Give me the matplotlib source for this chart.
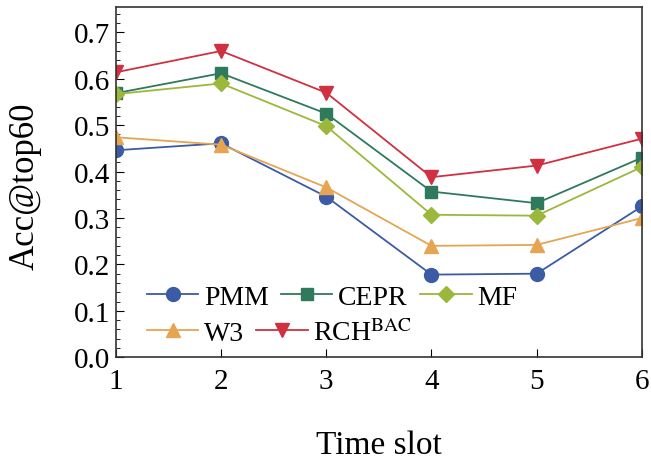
import matplotlib.pyplot as plt
from matplotlib.ticker import MultipleLocator

plt.rcParams['font.family'] = ['Liberation Serif', 'DejaVu Serif']
plt.rcParams['mathtext.fontset'] = 'stix'

slots = [1, 2, 3, 4, 5, 6]
pmm = [0.446, 0.461, 0.346, 0.178, 0.180, 0.325]
cepr = [0.569, 0.612, 0.525, 0.357, 0.332, 0.430]
mf = [0.567, 0.590, 0.498, 0.307, 0.305, 0.410]
w3 = [0.474, 0.458, 0.366, 0.240, 0.242, 0.300]
rch = [0.614, 0.660, 0.570, 0.388, 0.413, 0.471]

fig = plt.figure(figsize=(6.51, 4.64), dpi=100)
ax = fig.add_axes([0.178, 0.228, 0.808, 0.755])

h1, = ax.plot(slots, pmm, color='#3b5ba5', marker='o', ms=10, lw=1.3, label='PMM')
h2, = ax.plot(slots, cepr, color='#2f7a5c', marker='s', ms=9, lw=1.3, label='CEPR')
h3, = ax.plot(slots, mf, color='#9bb83c', marker='D', ms=8, lw=1.3, label='MF')
h4, = ax.plot(slots, w3, color='#e5a552', marker='^', ms=10, lw=1.3, label='W3')
h5, = ax.plot(slots, rch, color='#cf3140', marker='v', ms=10, lw=1.3, label='RCH$^{\\mathrm{BAC}}$')

ax.set_xlim(1, 6)
ax.set_ylim(0, 0.755)
ax.yaxis.set_major_locator(MultipleLocator(0.1))
ax.yaxis.set_minor_locator(MultipleLocator(0.02))
ax.yaxis.set_major_formatter(plt.FormatStrFormatter('%.1f'))
ax.tick_params(axis='both', which='both', direction='in', labelsize=21, top=False, right=False)
ax.tick_params(axis='y', which='major', length=6, pad=4)
ax.tick_params(axis='y', which='minor', length=3)
ax.tick_params(axis='x', which='major', length=6, pad=8)
for s in ax.spines.values():
    s.set_color('#333333')
    s.set_linewidth(1.2)

ax.set_xlabel('Time slot', fontsize=24, labelpad=25)
ax.set_ylabel('Acc@top60', fontsize=25)
ax.yaxis.set_label_coords(-0.142, 0.49)

# two legend rows, each laid out on its own
kw = dict(loc='center left', frameon=False, fontsize=20, handlelength=1.85,
          handletextpad=0.2, columnspacing=0.45, borderpad=0, borderaxespad=0)
leg1 = ax.legend([h1, h2, h3], ['PMM', 'CEPR', 'MF'], ncol=3,
                 bbox_to_anchor=(0.059, 0.171), **kw)
ax.add_artist(leg1)
ax.legend([h4, h5], ['W3', 'RCH$^{\\mathrm{BAC}}$'], ncol=2,
          bbox_to_anchor=(0.059, 0.071), **kw)

fig.savefig('out.png', dpi=100)
